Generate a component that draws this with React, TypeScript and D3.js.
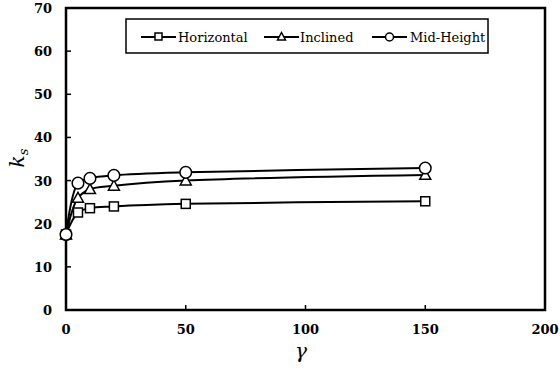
import React from "react";
import * as d3 from "d3";

const gammaValues = [0, 5, 10, 20, 50, 150];
const horizontal = [17.5, 22.6, 23.6, 24.0, 24.6, 25.2];
const inclined = [17.5, 26.0, 28.0, 28.8, 30.0, 31.3];
const midHeight = [17.5, 29.4, 30.5, 31.2, 31.9, 32.9];
const xTicks = [0, 50, 100, 150, 200];
const yTicks = [0, 10, 20, 30, 40, 50, 60, 70];
const seriesNames = ["Horizontal", "Inclined", "Mid-Height"];
const seriesMarkers = ["square", "triangle", "circle"];

const W = 560, H = 373;
const L = 66, R = 545, T = 8, B = 310;

function Marker({ type, x, y }: { type: string; x: number; y: number }) {
  const sw = 1.5;
  if (type === "square") return <rect x={x - 4.5} y={y - 4.5} width={9} height={9} fill="white" stroke="black" strokeWidth={sw} />;
  if (type === "triangle") {
    const s = 5.5;
    return <path d={`M${x},${y - s}L${x + s},${y + s * 0.8}L${x - s},${y + s * 0.8}Z`} fill="white" stroke="black" strokeWidth={sw} />;
  }
  return <circle cx={x} cy={y} r={5.8} fill="white" stroke="black" strokeWidth={sw} />;
}

export default function App() {
  const x = d3.scaleLinear().domain([0, 200]).range([L, R]);
  const y = d3.scaleLinear().domain([0, 70]).range([B, T]);
  const all = [horizontal, inclined, midHeight];
  const line = d3
    .line<number>()
    .x((_, i) => x(gammaValues[i]))
    .y((d) => y(d))
    .curve(d3.curveCatmullRom.alpha(0.5));
  const numFont = "'DejaVu Serif', 'Liberation Serif', serif";
  const legendItems = [
    { lx: 141, tx: 178 },
    { lx: 264, tx: 300 },
    { lx: 372, tx: 410 },
  ];
  return (
    <svg width={W} height={H} style={{ position: "absolute", left: 0, top: 0 }}>
      <rect width={W} height={H} fill="white" />
      {yTicks.map((t) => (
        <g key={"y" + t}>
          <line x1={L} x2={L + 5} y1={y(t)} y2={y(t)} stroke="black" strokeWidth={1.5} />
          <text x={52} y={y(t) + 5} textAnchor="end" fontFamily={numFont} fontWeight="bold" fontSize={13}>{t}</text>
        </g>
      ))}
      {xTicks.map((t) => (
        <g key={"x" + t}>
          <line x1={x(t)} x2={x(t)} y1={B} y2={B - 5} stroke="black" strokeWidth={1.5} />
          <text x={x(t)} y={334} textAnchor="middle" fontFamily={numFont} fontWeight="bold" fontSize={13}>{t}</text>
        </g>
      ))}
      <rect x={L} y={T} width={R - L} height={B - T} fill="none" stroke="black" strokeWidth={2.5} />
      {all.map((s, si) => (
        <path key={"l" + si} d={line(s) || ""} fill="none" stroke="black" strokeWidth={2} />
      ))}
      {all.map((s, si) =>
        s.map((v, i) => <Marker key={si + "-" + i} type={seriesMarkers[si]} x={x(gammaValues[i])} y={y(v)} />)
      )}
      <rect x={126} y={19} width={362} height={34} fill="white" stroke="black" strokeWidth={1.5} />
      {legendItems.map((it, i) => (
        <g key={"lg" + i}>
          <line x1={it.lx} x2={it.lx + 35} y1={37} y2={37} stroke="black" strokeWidth={2} />
          {seriesMarkers[i] === "square" && <rect x={it.lx + 14} y={33} width={7} height={7} fill="white" stroke="black" strokeWidth={1.5} />}
          {seriesMarkers[i] === "triangle" && <path d={`M${it.lx + 17.5},${32.5}L${it.lx + 21.5},${40}L${it.lx + 13.5},${40}Z`} fill="white" stroke="black" strokeWidth={1.5} />}
          {seriesMarkers[i] === "circle" && <circle cx={it.lx + 17.5} cy={37} r={4} fill="white" stroke="black" strokeWidth={1.5} />}
          <text x={it.tx} y={42} fontFamily="'DejaVu Serif', serif" fontSize={13}>{seriesNames[i]}</text>
        </g>
      ))}
      <text x={301} y={358} textAnchor="middle" fontFamily="'DejaVu Serif', serif" fontStyle="italic" fontSize={20}>γ</text>
      <g transform="translate(24,158) rotate(-90)">
        <text textAnchor="middle" fontFamily="'DejaVu Serif', serif" fontStyle="italic" fontSize={20}>
          k<tspan fontSize={13} dy={4}>s</tspan>
        </text>
      </g>
    </svg>
  );
}
